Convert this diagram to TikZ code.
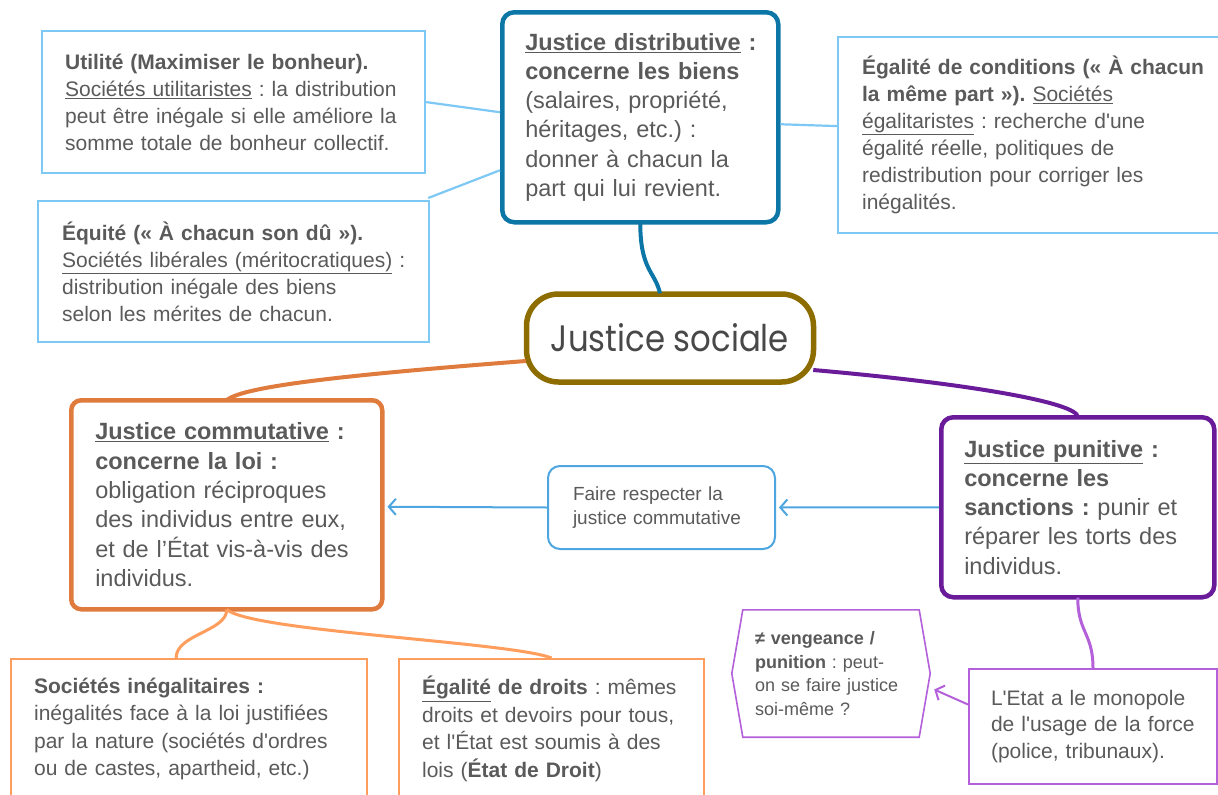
\documentclass[tikz,border=0pt]{standalone}
\usepackage{fontspec}
\setmainfont{Liberation Sans}
\newfontfamily\titlefont{Poppins}
\usetikzlibrary{arrows.meta}
\definecolor{txt}{HTML}{5A5A5A}
\definecolor{lblue}{HTML}{7EC8F5}
\definecolor{dblue}{HTML}{0C77A6}
\definecolor{olive}{HTML}{8E6D00}
\definecolor{orng}{HTML}{E07B3E}
\definecolor{lorng}{HTML}{FF9D5C}
\definecolor{mblue}{HTML}{4DA6E0}
\definecolor{purp}{HTML}{6A1B9A}
\definecolor{lpurp}{HTML}{B360DA}
\newcommand\fs[2]{\fontsize{#1}{#2}\selectfont}
\newcommand\ul[1]{\underline{#1}}
\newcommand\q{\textquotesingle}
\frenchspacing
\begin{document}
\begin{tikzpicture}[x=1pt,y=-1pt,
  every node/.style={text=txt, inner ysep=0pt, align=left},
  lbbox/.style={draw=lblue, line width=2.2pt, anchor=north west, font=\fs{21}{27}},
  lobox/.style={draw=lorng, line width=2.2pt, anchor=north west, font=\fs{21}{27.5}},
  lpbox/.style={draw=lpurp, line width=2pt, font=\fs{21}{26.5}},
  bigbox/.style={line width=4.5pt, rounded corners=12pt, anchor=north west, font=\fs{23.5}{29.3}},
  thinlink/.style={draw=lblue, line width=2.2pt},
  thicklink/.style={line width=4pt},
  arr/.style={draw=mblue, line width=2pt, -{Straight Barb[length=7pt,width=16pt]}},
  parr/.style={draw=lpurp, line width=2pt, -{Straight Barb[length=7pt,width=16pt]}}]
\useasboundingbox (0,0) rectangle (1218,795);
\clip (0,0) rectangle (1218,795);
\fill[white] (0,0) rectangle (1218,795);

% top-left boxes
\node[lbbox, minimum width=383, minimum height=142, inner xsep=23, text width=337] (util) at (41,30)
 {\mbox{\textbf{Utilité (Maximiser le bonheur).}}\\
  \mbox{\ul{Sociétés utilitaristes} : la distribution}\\
  \mbox{peut être inégale si elle améliore la}\\
  \mbox{somme totale de bonheur collectif.}};
\node[lbbox, minimum width=391, minimum height=141, inner xsep=24, text width=343] (equi) at (37,200)
 {\mbox{\textbf{Équité («~À chacun son dû~»).}}\\
  \mbox{\ul{Sociétés libérales (méritocratiques)} :}\\
  \mbox{distribution inégale des biens}\\
  \mbox{selon les mérites de chacun.}};

% distributive
\node[bigbox, draw=dblue, minimum width=276, minimum height=210, inner xsep=23, text width=230] (dist) at (500,10)
 {\mbox{\textbf{\ul{Justice distributive} :}}\\
  \mbox{\textbf{concerne les biens}}\\
  \mbox{(salaires, propriété,}\\
  \mbox{héritages, etc.) :}\\
  \mbox{donner à chacun la}\\
  \mbox{part qui lui revient.}};

% egalite de conditions
\node[lbbox, minimum width=390, minimum height=196, inner xsep=24, text width=342] (egc) at (837,36)
 {\mbox{\textbf{Égalité de conditions («~À chacun}}\\
  \mbox{\textbf{la même part~»).} \ul{Sociétés}}\\
  \mbox{\ul{égalitaristes} : recherche d\q une}\\
  \mbox{égalité réelle, politiques de}\\
  \mbox{redistribution pour corriger les}\\
  \mbox{inégalités.}};

% central
\node[draw=olive, line width=5.5pt, rounded corners=32pt, minimum width=287, minimum height=88, inner xsep=0pt, align=center] (soc) at (670,338)
 {\resizebox{238pt}{28pt}{\titlefont\color{txt!80!black}Justice sociale}};

% commutative
\node[bigbox, draw=orng, rounded corners=10pt, minimum width=311, minimum height=209, inner xsep=24, text width=263] (comm) at (69,398)
 {\mbox{\textbf{\ul{Justice commutative} :}}\\
  \mbox{\textbf{concerne la loi :}}\\
  \mbox{obligation réciproques}\\
  \mbox{des individus entre eux,}\\
  \mbox{et de l’État vis-à-vis des}\\
  \mbox{individus.}};

% faire respecter
\node[draw=mblue, line width=2pt, rounded corners=12pt, anchor=north west, minimum width=227, minimum height=83, inner xsep=25, text width=177, font=\fs{19}{24}] (faire) at (547,465)
 {\mbox{Faire respecter la}\\ \mbox{justice commutative}};

% punitive
\node[bigbox, draw=purp, minimum width=273, minimum height=180, inner xsep=23, text width=227] (pun) at (939,415)
 {\mbox{\textbf{\ul{Justice punitive} :}}\\
  \mbox{\textbf{concerne les}}\\
  \mbox{\textbf{sanctions :} punir et}\\
  \mbox{réparer les torts des}\\
  \mbox{individus.}};

% bottom boxes
\node[lobox, minimum width=356, minimum height=140, inner xsep=23, text width=310] (ineg) at (10,658)
 {\mbox{\textbf{Sociétés inégalitaires :}}\\
  \mbox{inégalités face à la loi justifiées}\\
  \mbox{par la nature (sociétés d\q ordres}\\
  \mbox{ou de castes, apartheid, etc.)}};
\node[lobox, minimum width=305, minimum height=140, inner xsep=23, text width=259] (egd) at (398,658)
 {\mbox{\textbf{\ul{Égalité} de droits} : mêmes}\\
  \mbox{droits et devoirs pour tous,}\\
  \mbox{et l\q État est soumis à des}\\
  \mbox{lois (\textbf{État de Droit})}};

% hexagon
\node[minimum width=198, minimum height=127, inner xsep=23, text width=152, font=\fs{18}{23.5}] (hex) at (831,673.5)
 {\mbox{\textbf{≠ vengeance /}}\\
  \mbox{\textbf{punition} : peut-}\\
  \mbox{on se faire justice}\\
  \mbox{soi-même ?}};
\draw[lpurp, line width=1.6pt] (hex.west) -- ([xshift=11]hex.north west) -- ([xshift=-11]hex.north east)
  -- (hex.east) -- ([xshift=-11]hex.south east) -- ([xshift=11]hex.south west) -- cycle;

% etat
\node[lpbox, anchor=north west, minimum width=248, minimum height=115, inner xsep=22, text width=204] (etat) at (968,668)
 {\mbox{L\q Etat a le monopole}\\
  \mbox{de l\q usage de la force}\\
  \mbox{(police, tribunaux).}};

% connectors
\draw[thinlink] (util.east) -- ([yshift=5]dist.west);
\draw[thinlink] ([xshift=-2,yshift=2]equi.north east) -- ([yshift=-53]dist.west);
\draw[thinlink] ([yshift=-7]dist.east) -- ([yshift=9]egc.west);

\draw[thicklink, dblue] ([yshift=2]dist.south) .. controls +(0,48) and +(-5,-22) .. ([xshift=-10,yshift=-2]soc.north);
\draw[thicklink, orng] ([xshift=2,yshift=-23]soc.west) .. controls +(-180,14) and +(18,-14) .. ([yshift=-2]comm.north);
\draw[thicklink, purp] ([xshift=-3,yshift=-32]soc.east) .. controls +(160,14) and +(0,-14) .. ([yshift=-2]pun.north);

\draw[line width=3pt, lorng] ([yshift=2]comm.south) .. controls +(0,22) and +(0,-24) .. ([xshift=-13]ineg.north);
\draw[line width=3pt, lorng] ([yshift=2]comm.south) .. controls +(25,22) and +(-40,-16) .. (egd.north);

\draw[line width=3pt, lpurp] ([yshift=2]pun.south) .. controls +(0,35) and +(0,-35) .. (etat.north);

\draw[parr] ([yshift=22]etat.west) -- ([xshift=4,yshift=-16]hex.east);
\draw[arr] (pun.west) -- ([xshift=3]faire.east);
\draw[arr] (faire.west) -- ([xshift=3,yshift=-2]comm.east);
\end{tikzpicture}
\end{document}
